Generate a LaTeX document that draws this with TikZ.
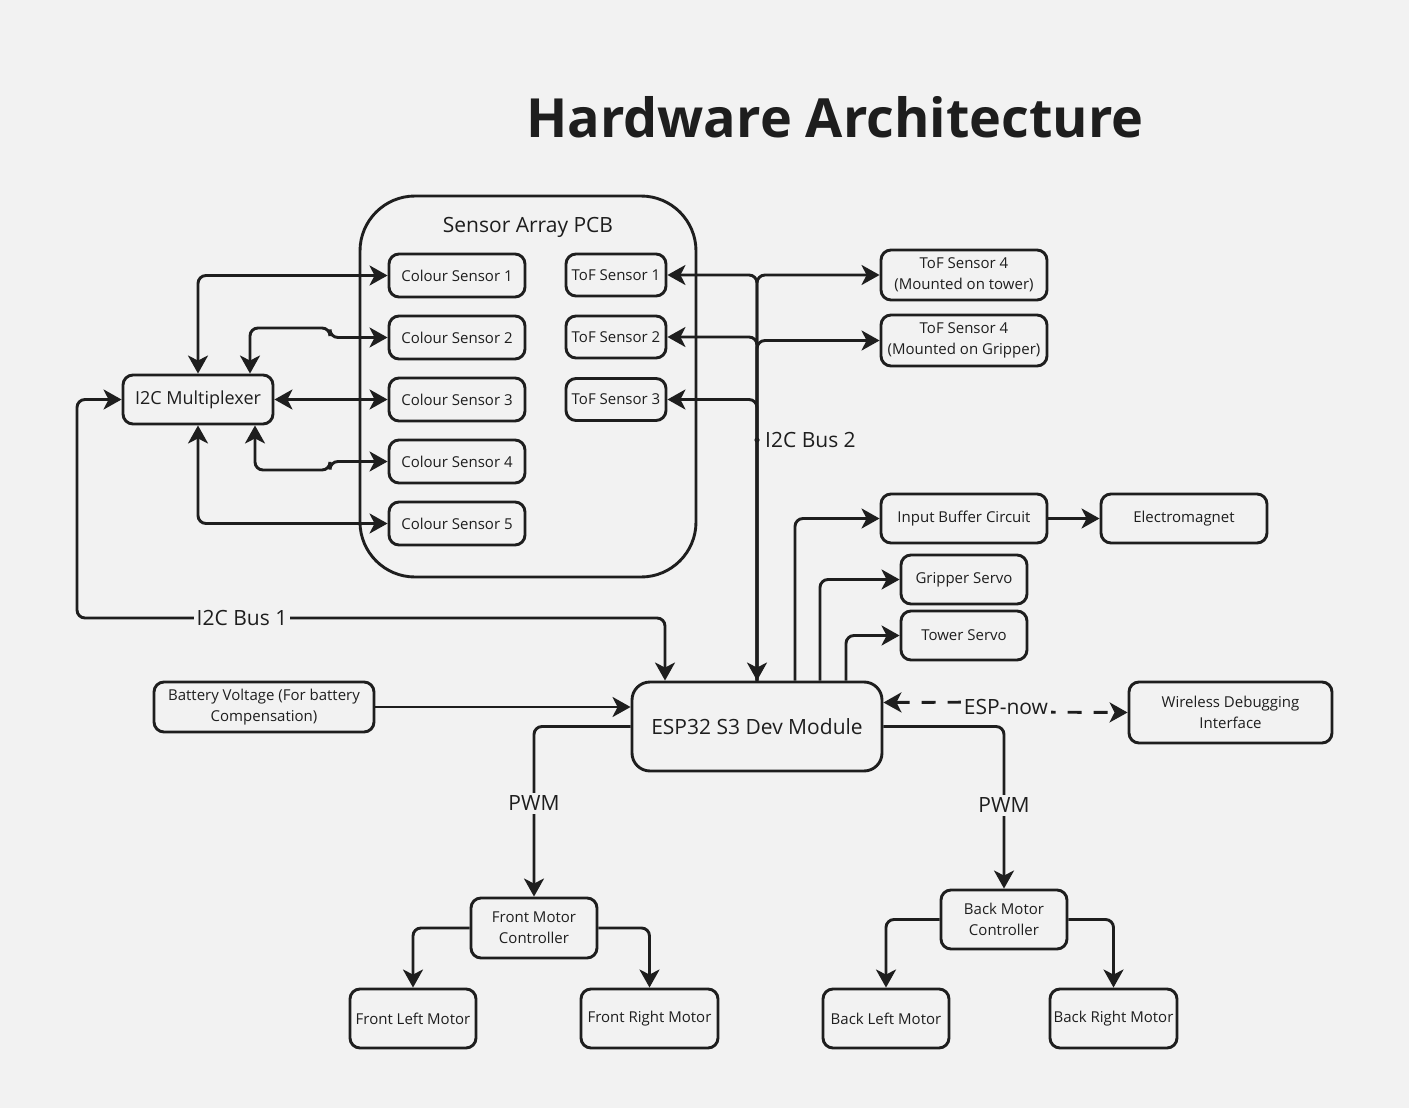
\documentclass[tikz,border=0pt]{standalone}
\usepackage{fontspec}
\setmainfont{Open Sans}
\usepackage{tikz}
\usetikzlibrary{arrows.meta,positioning}

\definecolor{ink}{HTML}{1E1E1E}
\definecolor{paper}{HTML}{F2F2F2}

\begin{document}
\begin{tikzpicture}[
  x=1pt,y=-1pt,
  box/.style={draw=ink,line width=2.9pt,rounded corners=10pt,align=center,
    inner sep=0pt,text=ink,font=\fontsize{15}{21}\selectfont},
  bigbox/.style={box,rounded corners=18pt,font=\fontsize{21}{25}\selectfont},
  buslabel/.style={fill=paper,inner sep=3pt,text=ink,font=\fontsize{21}{25}\selectfont},
  arrow/.style={draw=ink,line width=2.9pt,rounded corners=8pt,
    -{Stealth[length=18pt,width=20pt,inset=5pt]}},
  dual/.style={arrow,{Stealth[length=18pt,width=20pt,inset=5pt]}-{Stealth[length=18pt,width=20pt,inset=5pt]}}
]
% page
\fill[paper] (0,0) rectangle (1409,1108);
\useasboundingbox (0,0) rectangle (1409,1108);

\node[text=ink,font=\fontsize{54}{60}\selectfont\bfseries] (title) at (835,117) {Hardware Architecture};

% sensor array pcb
\node[draw=ink,line width=2.9pt,rounded corners=55pt,minimum width=336pt,minimum height=381pt] (pcb) at (528,386.5) {};
\node[text=ink,font=\fontsize{21}{25}\selectfont] (pcbname) at (528,227) {Sensor Array PCB};

\node[box,minimum width=136pt,minimum height=43pt] (cs1) at (457,275.5) {Colour Sensor 1};
\node[box,minimum width=136pt,minimum height=43pt] (cs2) at (457,337.5) {Colour Sensor 2};
\node[box,minimum width=136pt,minimum height=43pt] (cs3) at (457,399.5) {Colour Sensor 3};
\node[box,minimum width=136pt,minimum height=43pt] (cs4) at (457,461.5) {Colour Sensor 4};
\node[box,minimum width=136pt,minimum height=43pt] (cs5) at (457,523.5) {Colour Sensor 5};
\node[box,minimum width=100pt,minimum height=42pt] (tof1) at (616,275) {ToF Sensor 1};
\node[box,minimum width=100pt,minimum height=42pt] (tof2) at (616,337) {ToF Sensor 2};
\node[box,minimum width=100pt,minimum height=42pt] (tof3) at (616,399.5) {ToF Sensor 3};

% other blocks
\node[box,font=\fontsize{18}{22}\selectfont,minimum width=150pt,minimum height=49pt] (mux) at (198,399.5) {I2C Multiplexer};
\node[box,minimum width=166pt,minimum height=50pt] (toftower) at (964,275) {ToF Sensor 4\\(Mounted on tower)};
\node[box,minimum width=166pt,minimum height=51pt] (tofgrip) at (964,340.5) {ToF Sensor 4\\(Mounted on Gripper)};
\node[box,minimum width=166pt,minimum height=49pt] (buffer) at (964,518.5) {Input Buffer Circuit};
\node[box,minimum width=166pt,minimum height=49pt] (magnet) at (1184,518.5) {Electromagnet};
\node[box,minimum width=126pt,minimum height=49pt] (gripservo) at (964,579.5) {Gripper Servo};
\node[box,minimum width=126pt,minimum height=49pt] (towerservo) at (964,635.5) {Tower Servo};
\node[bigbox,minimum width=250pt,minimum height=89pt] (esp) at (757,726.5) {ESP32 S3 Dev Module};
\node[box,minimum width=220pt,minimum height=50pt] (battery) at (264,707) {Battery Voltage (For battery\\Compensation)};
\node[box,minimum width=203pt,minimum height=61pt] (wireless) at (1230.5,712.5) {Wireless Debugging\\Interface};
\node[box,minimum width=126pt,minimum height=60pt] (frontmc) at (534,928) {Front Motor\\Controller};
\node[box,minimum width=126pt,minimum height=59pt] (backmc) at (1004,919.5) {Back Motor\\Controller};
\node[box,minimum width=126pt,minimum height=59pt] (frontleft) at (413,1018.5) {Front Left Motor};
\node[box,minimum width=137pt,minimum height=59pt] (frontright) at (649.5,1018.5) {Front Right Motor};
\node[box,minimum width=126pt,minimum height=59pt] (backleft) at (886,1018.5) {Back Left Motor};
\node[box,minimum width=127pt,minimum height=59pt] (backright) at (1113.5,1018.5) {Back Right Motor};

% multiplexer to colour sensors
\draw[dual] (mux.north) |- (cs1.west);
\draw[dual] ([xshift=52pt]mux.north) |- (330,328) |- (cs2.west);
\draw[dual] (mux.east) -- (cs3.west);
\draw[dual] ([xshift=57pt]mux.south) |- (330,470) |- (cs4.west);
\draw[dual] (mux.south) |- (cs5.west);

% i2c bus 1
\draw[dual] (mux.west) -| (77,618) -| ([xshift=-92pt]esp.north);
\node[buslabel] (bus1) at (242,618) {I2C Bus 1};

% i2c bus 2
\draw[arrow] ([yshift=-8pt]tof1.east -| esp.north) -- (esp.north);
\draw[arrow] (esp.north) |- (tof1.east);
\draw[arrow] (esp.north) |- (tof2.east);
\draw[arrow] (esp.north) |- (tof3.east);
\draw[arrow] (esp.north) |- (toftower.west);
\draw[arrow] (esp.north) |- (tofgrip.west);
\fill[ink] (757,440) circle (2.6pt);
\node[buslabel,fill=none,anchor=west] (bus2) at (762,440) {I2C Bus 2};

% outputs
\draw[arrow] ([xshift=38pt]esp.north) |- (buffer.west);
\draw[arrow] (buffer) -- (magnet);
\draw[arrow] ([xshift=63pt]esp.north) |- (gripservo.west);
\draw[arrow] ([xshift=89pt]esp.north) |- (towerservo.west);
\draw[arrow] (battery.east) -- (battery.east -| esp.west);

% esp-now link
\draw[dual,dash pattern=on 14pt off 12pt,rounded corners=0pt] ([yshift=24pt]esp.east) -- (1006,702) -- (1006,712) -- (wireless.west);
\node[buslabel] (espnow) at (1006,707) {ESP-now};

% motors
\draw[arrow] (esp.west) -| (frontmc.north);
\node[buslabel] (pwmfront) at (534,803) {PWM};
\draw[arrow] (esp.east) -| (backmc.north);
\node[buslabel] (pwmback) at (1004,805) {PWM};
\draw[arrow] (frontmc.west) -| (frontleft.north);
\draw[arrow] (frontmc.east) -| (frontright.north);
\draw[arrow] (backmc.west) -| (backleft.north);
\draw[arrow] (backmc.east) -| (backright.north);
\end{tikzpicture}
\end{document}
